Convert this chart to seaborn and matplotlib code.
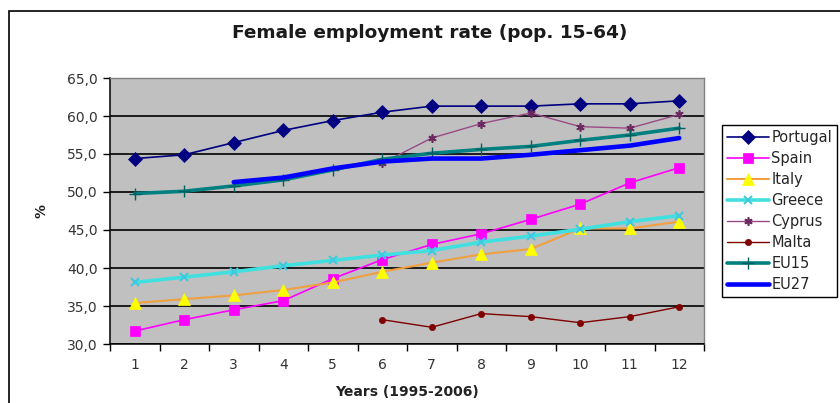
import numpy as np
import pandas as pd
import matplotlib
matplotlib.use("Agg")
import matplotlib.pyplot as plt
import matplotlib.patches as mpatches
from matplotlib.ticker import FixedLocator, FuncFormatter, NullFormatter
import seaborn as sns

# Female employment rate, population 15-64, years 1995-2006 (index 1..12)
years = list(range(1, 13))
portugal = [54.4, 54.9, 56.5, 58.1, 59.4, 60.5, 61.3, 61.3, 61.3, 61.6, 61.6, 62.0]
spain = [31.7, 33.2, 34.5, 35.7, 38.6, 41.1, 43.1, 44.5, 46.4, 48.4, 51.2, 53.2]
italy = [35.4, 35.9, 36.4, 37.1, 38.1, 39.5, 40.7, 41.8, 42.5, 45.2, 45.2, 46.1]
greece = [38.1, 38.8, 39.5, 40.3, 41.0, 41.7, 42.3, 43.4, 44.2, 45.1, 46.1, 46.9]
cyprus = [None, None, None, None, None, 53.8, 57.1, 59.0, 60.4, 58.6, 58.4, 60.2]
malta = [None, None, None, None, None, 33.2, 32.2, 34.0, 33.6, 32.8, 33.6, 34.9]
eu15 = [49.8, 50.1, 50.8, 51.6, 52.9, 54.3, 55.1, 55.6, 56.0, 56.8, 57.5, 58.4]
eu27 = [None, None, 51.3, 51.9, 53.1, 54.0, 54.4, 54.4, 54.9, 55.5, 56.1, 57.1]

series_names = ["Portugal", "Spain", "Italy", "Greece", "Cyprus", "Malta", "EU15", "EU27"]
y_ticks = [30, 35, 40, 45, 50, 55, 60, 65]

df = pd.DataFrame({
    "year": years,
    "Portugal": portugal, "Spain": spain, "Italy": italy, "Greece": greece,
    "Cyprus": cyprus, "Malta": malta, "EU15": eu15, "EU27": eu27,
}).astype(float)

styles = {
    "Portugal": dict(color="#000080", lw=1.2, marker="D", ms=7.2, mfc="#000080", mec="#000080", mew=0.5),
    "Spain": dict(color="#FF00FF", lw=1.2, marker="s", ms=7.5, mfc="#FF00FF", mec="#FF00FF", mew=0.5),
    "Italy": dict(color="#F0A040", lw=1.5, marker="^", ms=8.5, mfc="#FFFF00", mec="#FFFF00", mew=0.5),
    "Greece": dict(color="#40E0E0", lw=2.6, marker="x", ms=6, mfc="#40E0E0", mec="#40C8E0", mew=1.5),
    "Cyprus": dict(color="#9A4A86", lw=1.0, marker=(6, 2, 0), ms=6, mfc="#6A2A60", mec="#6A2A60", mew=1.2),
    "Malta": dict(color="#800000", lw=1.0, marker="o", ms=4.5, mfc="#800000", mec="#800000", mew=0.5),
    "EU15": dict(color="#008080", lw=2.6, marker="+", ms=8, mfc="#008080", mec="#006060", mew=1.0),
    "EU27": dict(color="#0000FF", lw=3.3, marker=None, ms=0, mfc="#0000FF", mec="#0000FF", mew=0),
}

sns.set_style("white")
plt.rcParams["font.family"] = ["DejaVu Sans"]

fig = plt.figure(figsize=(8.4, 4.03), dpi=100)
ax = fig.add_axes([110 / 840, 1 - 344 / 403, 594 / 840, 266 / 403])
ax.set_facecolor("#C0C0C0")

for i, name in enumerate(series_names):
    st = styles[name]
    sub = df[["year", name]].dropna()
    sns.lineplot(
        data=sub, x="year", y=name, ax=ax, label=name,
        color=st["color"], linewidth=st["lw"], marker=st["marker"],
        markersize=st["ms"], markerfacecolor=st["mfc"], markeredgecolor=st["mec"],
        markeredgewidth=st["mew"], zorder=3 + i, estimator=None,
    )

# y axis
ax.set_ylim(30, 65)
ax.yaxis.set_major_locator(FixedLocator(y_ticks))
ax.yaxis.set_major_formatter(FuncFormatter(lambda v, p: f"{v:.1f}".replace(".", ",")))
ax.grid(axis="y", color="black", lw=1.2, zorder=1)
ax.set_axisbelow(True)

# category x axis: ticks between categories, labels centred
ax.set_xlim(0.5, 12.5)
ax.xaxis.set_major_locator(FixedLocator(np.arange(0.5, 13, 1.0)))
ax.xaxis.set_major_formatter(NullFormatter())
ax.xaxis.set_minor_locator(FixedLocator(years))
ax.xaxis.set_minor_formatter(FuncFormatter(lambda v, p: f"{int(v)}"))
ax.tick_params(axis="x", which="major", direction="out", length=5, width=1, color="black", bottom=True)
ax.tick_params(axis="x", which="minor", length=0, pad=10, labelsize=10, labelcolor="#333333")
ax.tick_params(axis="y", direction="out", length=5, width=1, color="black", left=True,
               labelsize=10, labelcolor="#333333", pad=4)

for side in ["left", "bottom"]:
    ax.spines[side].set_color("black")
    ax.spines[side].set_linewidth(1.1)
for side in ["top", "right"]:
    ax.spines[side].set_color("#808080")
    ax.spines[side].set_linewidth(1.0)

ax.set_xlabel("Years (1995-2006)", fontsize=10, fontweight="bold", color="#222222")
ax.xaxis.set_label_coords(0.5, -0.155)
ax.set_ylabel("%", fontsize=10, fontweight="bold", color="#222222")
ax.yaxis.set_label_coords(-0.104, 0.5)

fig.text(430 / 840, 1 - 33 / 403, "Female employment rate (pop. 15-64)",
         ha="center", va="center", fontsize=13.3, fontweight="bold", color="#1a1a1a")

leg = ax.legend(
    loc="upper left", bbox_to_anchor=(722 / 840, 1 - 125 / 403),
    bbox_transform=fig.transFigure, borderaxespad=0, frameon=True, fancybox=False,
    edgecolor="black", facecolor="white", framealpha=1, fontsize=10.5,
    handlelength=2.9, handletextpad=0.12, labelspacing=0.41, borderpad=0.35,
)
leg.get_frame().set_linewidth(1.0)

# outer chart border
fig.patches.append(mpatches.Rectangle(
    (9 / 840, -0.1), 1.0, (1 - 11 / 403) + 0.1, transform=fig.transFigure,
    fill=False, edgecolor="black", linewidth=1.2, zorder=0))

fig.savefig("out.png", dpi=100, facecolor="white")
